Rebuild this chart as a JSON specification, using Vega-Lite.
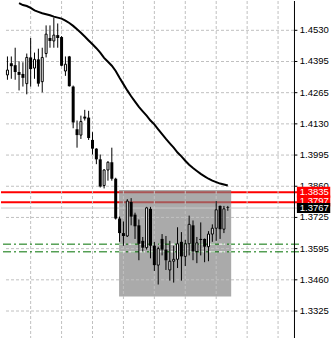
{
  "$schema": "https://vega.github.io/schema/vega-lite/v6.json",
  "width": 298,
  "height": 338,
  "padding": 0,
  "autosize": {"type": "pad"},
  "background": "white",
  "config": {"view": {"stroke": null}, "font": "Liberation Sans"},
  "datasets": {
    "candles": [
      {"i":0,"o":1.43385,"h":1.44177,"l":1.43177,"c":1.43594},
      {"i":1,"o":1.43885,"h":1.44177,"l":1.43219,"c":1.43760},
      {"i":2,"o":1.43802,"h":1.44552,"l":1.43177,"c":1.43510},
      {"i":3,"o":1.43510,"h":1.43968,"l":1.42719,"c":1.43385},
      {"i":4,"o":1.43427,"h":1.43927,"l":1.42885,"c":1.43260},
      {"i":5,"o":1.43010,"h":1.44302,"l":1.42552,"c":1.44135},
      {"i":6,"o":1.44135,"h":1.44968,"l":1.42885,"c":1.43635},
      {"i":7,"o":1.43677,"h":1.44343,"l":1.43219,"c":1.44052},
      {"i":8,"o":1.44052,"h":1.44510,"l":1.42885,"c":1.43010},
      {"i":9,"o":1.43094,"h":1.44552,"l":1.42635,"c":1.44135},
      {"i":10,"o":1.44302,"h":1.45510,"l":1.44135,"c":1.45135},
      {"i":11,"o":1.44968,"h":1.45510,"l":1.44552,"c":1.44843},
      {"i":12,"o":1.44843,"h":1.45843,"l":1.44552,"c":1.45093},
      {"i":13,"o":1.45093,"h":1.45593,"l":1.44552,"c":1.44968},
      {"i":14,"o":1.45010,"h":1.45052,"l":1.43760,"c":1.43780},
      {"i":15,"o":1.43552,"h":1.44177,"l":1.43344,"c":1.43844},
      {"i":16,"o":1.44177,"h":1.44200,"l":1.42885,"c":1.42900},
      {"i":17,"o":1.42885,"h":1.42927,"l":1.41094,"c":1.41344},
      {"i":18,"o":1.41052,"h":1.41427,"l":1.40261,"c":1.40802},
      {"i":19,"o":1.40802,"h":1.41636,"l":1.40636,"c":1.41386},
      {"i":20,"o":1.41594,"h":1.41886,"l":1.41427,"c":1.41511},
      {"i":21,"o":1.41552,"h":1.41844,"l":1.40594,"c":1.40678},
      {"i":22,"o":1.40594,"h":1.40927,"l":1.39969,"c":1.40219},
      {"i":23,"o":1.40219,"h":1.40240,"l":1.39553,"c":1.39761},
      {"i":24,"o":1.39761,"h":1.39969,"l":1.38553,"c":1.38595},
      {"i":25,"o":1.38636,"h":1.39344,"l":1.38511,"c":1.39303},
      {"i":26,"o":1.39303,"h":1.39678,"l":1.38845,"c":1.39636},
      {"i":27,"o":1.39636,"h":1.40261,"l":1.38845,"c":1.38928},
      {"i":28,"o":1.38928,"h":1.38970,"l":1.37178,"c":1.37220},
      {"i":29,"o":1.37220,"h":1.37303,"l":1.36220,"c":1.36595},
      {"i":30,"o":1.36595,"h":1.37095,"l":1.36053,"c":1.36470},
      {"i":31,"o":1.36470,"h":1.38053,"l":1.36428,"c":1.37970},
      {"i":32,"o":1.37928,"h":1.38095,"l":1.36928,"c":1.37303},
      {"i":33,"o":1.37387,"h":1.37470,"l":1.36345,"c":1.36887},
      {"i":34,"o":1.36928,"h":1.37178,"l":1.35429,"c":1.36137},
      {"i":35,"o":1.36262,"h":1.36428,"l":1.35804,"c":1.35970},
      {"i":36,"o":1.35970,"h":1.37720,"l":1.35887,"c":1.37678},
      {"i":37,"o":1.37636,"h":1.37720,"l":1.35512,"c":1.36053},
      {"i":38,"o":1.36053,"h":1.36220,"l":1.34970,"c":1.35220},
      {"i":39,"o":1.35220,"h":1.36012,"l":1.34387,"c":1.35928},
      {"i":40,"o":1.36345,"h":1.36553,"l":1.35637,"c":1.35887},
      {"i":41,"o":1.35887,"h":1.36470,"l":1.35012,"c":1.35429},
      {"i":42,"o":1.35012,"h":1.36262,"l":1.34554,"c":1.35387},
      {"i":43,"o":1.35387,"h":1.36053,"l":1.34470,"c":1.35470},
      {"i":44,"o":1.35470,"h":1.36845,"l":1.35095,"c":1.36137},
      {"i":45,"o":1.36220,"h":1.36637,"l":1.34554,"c":1.35595},
      {"i":46,"o":1.35595,"h":1.36303,"l":1.35179,"c":1.36137},
      {"i":47,"o":1.36137,"h":1.37345,"l":1.35637,"c":1.36970},
      {"i":48,"o":1.36928,"h":1.37137,"l":1.35429,"c":1.35804},
      {"i":49,"o":1.35804,"h":1.36428,"l":1.35304,"c":1.36178},
      {"i":50,"o":1.36345,"h":1.37053,"l":1.35637,"c":1.36303},
      {"i":51,"o":1.36345,"h":1.36360,"l":1.35345,"c":1.36012},
      {"i":52,"o":1.36012,"h":1.36678,"l":1.35387,"c":1.36553},
      {"i":53,"o":1.36553,"h":1.36970,"l":1.36220,"c":1.36803},
      {"i":54,"o":1.36803,"h":1.37970,"l":1.36262,"c":1.37595},
      {"i":55,"o":1.37761,"h":1.37780,"l":1.36345,"c":1.36762},
      {"i":56,"o":1.36762,"h":1.37761,"l":1.36595,"c":1.37636},
      {"i":57,"o":1.37700,"h":1.37761,"l":1.37553,"c":1.37670}
    ],
    "ma": [
      {"i":3,"v":1.46468},{"i":4,"v":1.46385},{"i":5,"v":1.46343},{"i":6,"v":1.46260},{"i":7,"v":1.46156},
      {"i":8,"v":1.46093},{"i":9,"v":1.46031},{"i":10,"v":1.45989},{"i":11,"v":1.45947},{"i":12,"v":1.45885},
      {"i":13,"v":1.45843},{"i":14,"v":1.45801},{"i":15,"v":1.45718},{"i":16,"v":1.45614},{"i":17,"v":1.45489},
      {"i":18,"v":1.45343},{"i":19,"v":1.45197},{"i":20,"v":1.45031},{"i":21,"v":1.44864},{"i":22,"v":1.44698},
      {"i":23,"v":1.44531},{"i":24,"v":1.44343},{"i":25,"v":1.44114},{"i":26,"v":1.43948},{"i":27,"v":1.43781},
      {"i":28,"v":1.43552},{"i":29,"v":1.43260},{"i":30,"v":1.42989},{"i":31,"v":1.42719},{"i":32,"v":1.42469},
      {"i":33,"v":1.42240},{"i":34,"v":1.42011},{"i":35,"v":1.41823},{"i":36,"v":1.41636},{"i":37,"v":1.41427},
      {"i":38,"v":1.41261},{"i":39,"v":1.41052},{"i":40,"v":1.40844},{"i":41,"v":1.40636},{"i":42,"v":1.40448},
      {"i":43,"v":1.40261},{"i":44,"v":1.40053},{"i":45,"v":1.39886},{"i":46,"v":1.39699},{"i":47,"v":1.39532},
      {"i":48,"v":1.39386},{"i":49,"v":1.39261},{"i":50,"v":1.39136},{"i":51,"v":1.39032},{"i":52,"v":1.38928},
      {"i":53,"v":1.38845},{"i":54,"v":1.38783},{"i":55,"v":1.38720},{"i":56,"v":1.38678},{"i":57,"v":1.38636}
    ],
    "ticks": [
      {"v":1.3325,"label":"1.3325"},{"v":1.345889,"label":"1.3460"},{"v":1.359278,"label":"1.3595"},
      {"v":1.372667,"label":"1.3725"},{"v":1.386056,"label":"1.3860"},{"v":1.399444,"label":"1.3995"},
      {"v":1.412833,"label":"1.4130"},{"v":1.426222,"label":"1.4265"},{"v":1.439611,"label":"1.4395"},
      {"v":1.4530,"label":"1.4530"}
    ],
    "timegrid": [{"t":6},{"t":14},{"t":22},{"t":30},{"t":38},{"t":46},{"t":54},{"t":62},{"t":70}],
    "redlevels": [{"p":1.3835},{"p":1.3792}],
    "greenlevels": [{"p":1.3612,"t1":28.875,"t2":57.875},{"p":1.3579,"t1":28.875,"t2":57.875}],
    "box": [{"t1":28.875,"t2":57.875,"p1":1.33875,"p2":1.38449}],
    "bid": [{"p":1.3767}],
    "tags": [
      {"p":1.3835,"label":"1.3835","kind":"level"},
      {"p":1.3797,"label":"1.3797","kind":"level"},
      {"p":1.3767,"label":"1.3767","kind":"bid"}
    ]
  },
  "layer": [
    {
      "data": {"name": "redlevels"},
      "mark": {"type": "rule", "color": "#ff0000", "strokeWidth": 2},
      "encoding": {
        "y": {"field": "p", "type": "quantitative", "scale": {"domain": [1.32263, 1.46343], "nice": false, "zero": false}, "axis": null}
      }
    },
    {
      "data": {"name": "box"},
      "mark": {"type": "rect", "fill": "#808080", "opacity": 0.667},
      "encoding": {
        "x": {"field": "t1", "type": "quantitative", "scale": {"domain": [-0.375, 74.125], "nice": false, "zero": false}, "axis": null},
        "x2": {"field": "t2"},
        "y": {"field": "p1", "type": "quantitative", "scale": {"domain": [1.32263, 1.46343], "nice": false, "zero": false}, "axis": null},
        "y2": {"field": "p2"}
      }
    },
    {
      "data": {"name": "timegrid"},
      "mark": {"type": "rule", "color": "#c0c0c0", "strokeWidth": 1, "strokeDash": [3, 2]},
      "encoding": {
        "x": {"field": "t", "type": "quantitative", "scale": {"domain": [-0.375, 74.125], "nice": false, "zero": false}, "axis": null}
      }
    },
    {
      "data": {"name": "ticks"},
      "mark": {"type": "rule", "color": "#c0c0c0", "strokeWidth": 1, "strokeDash": [3, 2]},
      "encoding": {
        "x": {"datum": -0.375, "type": "quantitative", "scale": {"domain": [-0.375, 74.125], "nice": false, "zero": false}, "axis": null},
        "x2": {"datum": 74.125},
        "y": {"field": "v", "type": "quantitative", "scale": {"domain": [1.32263, 1.46343], "nice": false, "zero": false}, "axis": null}
      }
    },
    {
      "data": {"name": "bid"},
      "mark": {"type": "rule", "color": "#c8c8c8", "strokeWidth": 1},
      "encoding": {
        "y": {"field": "p", "type": "quantitative", "scale": {"domain": [1.32263, 1.46343], "nice": false, "zero": false}, "axis": null}
      }
    },
    {
      "data": {"name": "greenlevels"},
      "mark": {"type": "rule", "color": "#007000", "strokeWidth": 1, "strokeDash": [8, 3, 2, 3]},
      "encoding": {
        "y": {"field": "p", "type": "quantitative", "scale": {"domain": [1.32263, 1.46343], "nice": false, "zero": false}, "axis": null}
      }
    },
    {
      "data": {"name": "greenlevels"},
      "mark": {"type": "rule", "color": "#ffffff", "strokeWidth": 1, "strokeDash": [6, 4]},
      "encoding": {
        "x": {"field": "t1", "type": "quantitative", "scale": {"domain": [-0.375, 74.125], "nice": false, "zero": false}, "axis": null},
        "x2": {"field": "t2"},
        "y": {"field": "p", "type": "quantitative", "scale": {"domain": [1.32263, 1.46343], "nice": false, "zero": false}, "axis": null}
      }
    },
    {
      "data": {"name": "ma"},
      "mark": {"type": "line", "color": "#000000", "strokeWidth": 2, "clip": true},
      "encoding": {
        "x": {"field": "i", "type": "quantitative", "scale": {"domain": [-0.375, 74.125], "nice": false, "zero": false}, "axis": null},
        "y": {"field": "v", "type": "quantitative", "scale": {"domain": [1.32263, 1.46343], "nice": false, "zero": false}, "axis": null}
      }
    },
    {
      "data": {"name": "candles"},
      "mark": {"type": "rule", "color": "#000000", "strokeWidth": 1},
      "encoding": {
        "x": {"field": "i", "type": "quantitative", "scale": {"domain": [-0.375, 74.125], "nice": false, "zero": false}, "axis": null},
        "y": {"field": "l", "type": "quantitative", "scale": {"domain": [1.32263, 1.46343], "nice": false, "zero": false}, "axis": null},
        "y2": {"field": "h"}
      }
    },
    {
      "data": {"name": "candles"},
      "transform": [{"filter": "datum.c < datum.o"}],
      "mark": {"type": "bar", "color": "#000000", "size": 3},
      "encoding": {
        "x": {"field": "i", "type": "quantitative", "scale": {"domain": [-0.375, 74.125], "nice": false, "zero": false}, "axis": null},
        "y": {"field": "o", "type": "quantitative", "scale": {"domain": [1.32263, 1.46343], "nice": false, "zero": false}, "axis": null},
        "y2": {"field": "c"}
      }
    },
    {
      "data": {"name": "candles"},
      "transform": [{"filter": "datum.c >= datum.o"}],
      "mark": {"type": "bar", "fill": "#ffffff", "stroke": "#000000", "strokeWidth": 1, "size": 2},
      "encoding": {
        "x": {"field": "i", "type": "quantitative", "scale": {"domain": [-0.375, 74.125], "nice": false, "zero": false}, "axis": null},
        "y": {"field": "o", "type": "quantitative", "scale": {"domain": [1.32263, 1.46343], "nice": false, "zero": false}, "axis": null},
        "y2": {"field": "c"}
      }
    },
    {
      "data": {"name": "ticks"},
      "mark": {"type": "rule", "color": "#000000", "strokeWidth": 1},
      "encoding": {
        "x": {"datum": 74.25, "type": "quantitative", "scale": {"domain": [-0.375, 74.125], "nice": false, "zero": false}, "axis": null},
        "x2": {"datum": 75.0},
        "y": {"field": "v", "type": "quantitative", "scale": {"domain": [1.32263, 1.46343], "nice": false, "zero": false}, "axis": null}
      }
    },
    {
      "data": {"name": "ticks"},
      "mark": {"type": "text", "color": "#000000", "align": "left", "baseline": "middle", "font": "Liberation Sans", "fontSize": 9.5},
      "encoding": {
        "x": {"datum": 75.625, "type": "quantitative", "scale": {"domain": [-0.375, 74.125], "nice": false, "zero": false}, "axis": null},
        "y": {"field": "v", "type": "quantitative", "scale": {"domain": [1.32263, 1.46343], "nice": false, "zero": false}, "axis": null},
        "text": {"field": "label"}
      }
    },
    {
      "data": {"values": [{"edge": 74.25}]},
      "mark": {"type": "rule", "color": "#000000", "strokeWidth": 1},
      "encoding": {
        "x": {"field": "edge", "type": "quantitative", "scale": {"domain": [-0.375, 74.125], "nice": false, "zero": false}, "axis": null}
      }
    },
    {
      "data": {"name": "tags"},
      "transform": [{"filter": "datum.kind == 'level'"}],
      "mark": {"type": "bar", "color": "#ff0000", "size": 11, "orient": "horizontal", "clip": false},
      "encoding": {
        "x": {"datum": 74.875, "type": "quantitative", "scale": {"domain": [-0.375, 74.125], "nice": false, "zero": false}, "axis": null},
        "x2": {"datum": 83.5},
        "y": {"field": "p", "type": "quantitative", "scale": {"domain": [1.32263, 1.46343], "nice": false, "zero": false}, "axis": null}
      }
    },
    {
      "data": {"name": "tags"},
      "transform": [{"filter": "datum.kind == 'level'"}],
      "mark": {"type": "text", "color": "#ffffff", "align": "left", "baseline": "middle", "font": "Liberation Sans", "fontSize": 9.5},
      "encoding": {
        "x": {"datum": 75.625, "type": "quantitative", "scale": {"domain": [-0.375, 74.125], "nice": false, "zero": false}, "axis": null},
        "y": {"field": "p", "type": "quantitative", "scale": {"domain": [1.32263, 1.46343], "nice": false, "zero": false}, "axis": null},
        "text": {"field": "label"}
      }
    },
    {
      "data": {"name": "tags"},
      "transform": [{"filter": "datum.kind == 'bid'"}],
      "mark": {"type": "bar", "color": "#000000", "size": 10, "orient": "horizontal", "clip": false},
      "encoding": {
        "x": {"datum": 74.875, "type": "quantitative", "scale": {"domain": [-0.375, 74.125], "nice": false, "zero": false}, "axis": null},
        "x2": {"datum": 83.5},
        "y": {"field": "p", "type": "quantitative", "scale": {"domain": [1.32263, 1.46343], "nice": false, "zero": false}, "axis": null}
      }
    },
    {
      "data": {"name": "tags"},
      "transform": [{"filter": "datum.kind == 'bid'"}],
      "mark": {"type": "text", "color": "#ffffff", "align": "left", "baseline": "middle", "font": "Liberation Sans", "fontSize": 9.5},
      "encoding": {
        "x": {"datum": 75.625, "type": "quantitative", "scale": {"domain": [-0.375, 74.125], "nice": false, "zero": false}, "axis": null},
        "y": {"field": "p", "type": "quantitative", "scale": {"domain": [1.32263, 1.46343], "nice": false, "zero": false}, "axis": null},
        "text": {"field": "label"}
      }
    }
  ]
}
